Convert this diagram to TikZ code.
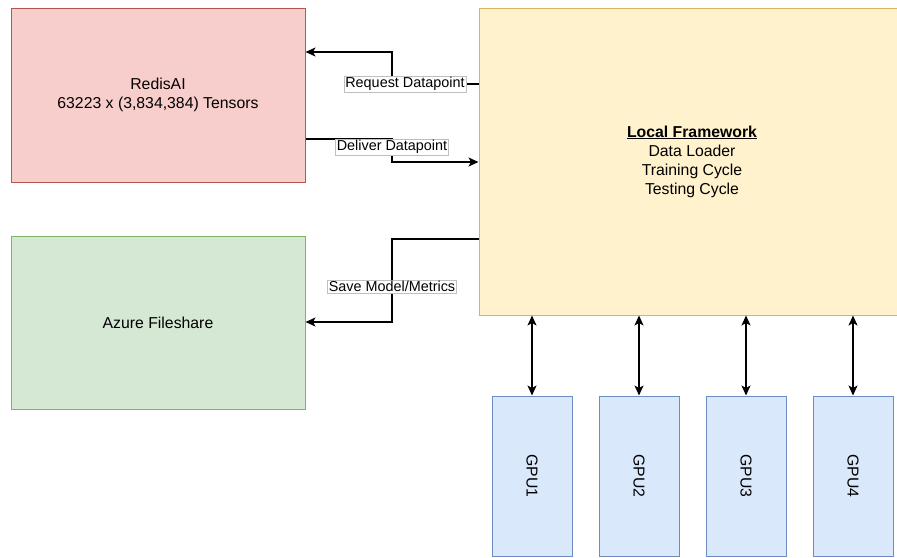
\documentclass[tikz,border=0pt]{standalone}
\usepackage{fontspec}
\setmainfont{Liberation Sans}
\usetikzlibrary{arrows.meta}
\definecolor{redfill}{HTML}{F8CECC}
\definecolor{redline}{HTML}{B85450}
\definecolor{greenfill}{HTML}{D5E8D4}
\definecolor{greenline}{HTML}{82B366}
\definecolor{yellowfill}{HTML}{FFF2CC}
\definecolor{yellowline}{HTML}{D6B656}
\definecolor{bluefill}{HTML}{DAE8FC}
\definecolor{blueline}{HTML}{6C8EBF}

\begin{document}
\begin{tikzpicture}[x=1pt, y=-1pt,
    box/.style={draw, line width=1pt, align=center, inner sep=0pt,
        font=\fontsize{15.8}{19}\selectfont},
    gpubox/.style={box, fill=bluefill, draw=blueline, minimum width=80pt, minimum height=160pt},
    >={Stealth[length=10pt, width=9pt, inset=2.5pt]},
    conn/.style={line width=1.3pt, ->},
    lbl/.style={fill=white, draw=black!25, line width=0.5pt, inner sep=1.2pt,
        font=\fontsize{14.4}{16}\selectfont}]
    \clip (0,0) rectangle (897,557);
    \fill[white] (0,0) rectangle (897,557);

    \node[box, fill=redfill, draw=redline, minimum width=294pt, minimum height=174pt]
        (redis) at (158,95) {RedisAI\\63223 x (3,834,384) Tensors};
    \node[box, fill=greenfill, draw=greenline, minimum width=294pt, minimum height=173pt]
        (azure) at (158,322.5) {Azure Fileshare};
    \node[box, fill=yellowfill, draw=yellowline, minimum width=426pt, minimum height=307pt]
        (lf) at (692,161.5) {\underline{\textbf{Local Framework}}\\Data Loader\\Training Cycle\\Testing Cycle};

    \foreach \i/\x in {1/532, 2/639, 3/746, 4/853} {
        \node[gpubox] (gpu\i) at (\x,476) {\rotatebox{-90}{GPU\i}};
        \draw[line width=1.3pt, <->] (gpu\i.north |- lf.south) -- (gpu\i.north);
    }

    \draw[conn] (lf.west |- 0,84) -- node[lbl, pos=0.85] {Request Datapoint} (392,84)
        -- (392,52) -- (redis.east |- 0,52);
    \draw[conn] (redis.east |- 0,139) -- (392,139) -- node[lbl, pos=0.35] {Deliver Datapoint} (392,162)
        -- (lf.west |- 0,162);
    \draw[conn] (lf.west |- 0,239) -- (392,239) -- node[lbl, pos=0.57] {Save Model/Metrics} (392,322)
        -- (azure.east |- 0,322);
\end{tikzpicture}
\end{document}
